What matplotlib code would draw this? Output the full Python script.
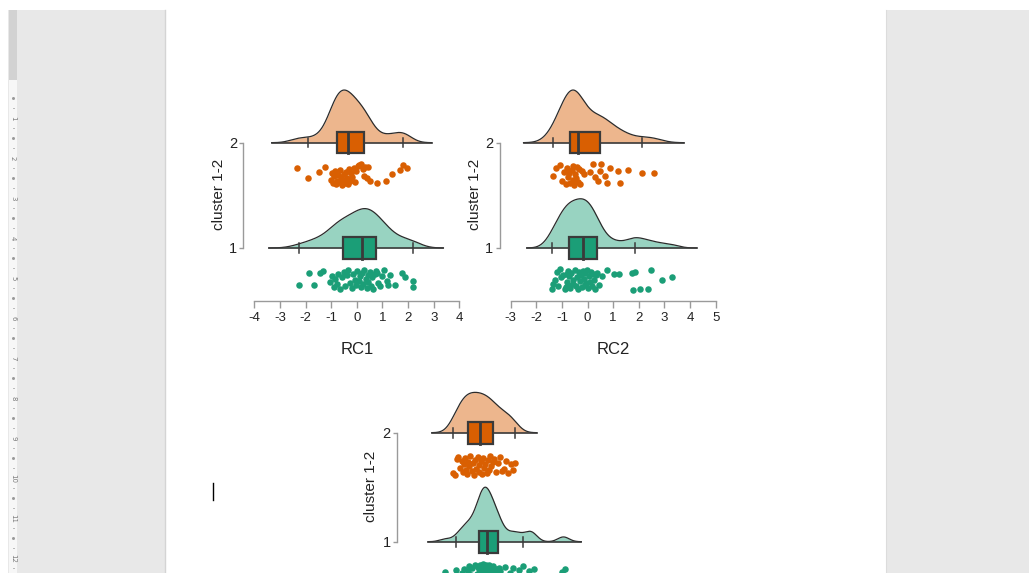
import numpy as np
import matplotlib
matplotlib.use("Agg")
import matplotlib.pyplot as plt
from matplotlib.patches import Rectangle

plt.rcParams['font.family'] = ['Liberation Sans Narrow', 'Liberation Sans', 'DejaVu Sans']
plt.rcParams['axes.unicode_minus'] = False

# --- data (component scores per cluster) ---
RC1_CLUSTER2 = [-2.35, -1.92, -1.48, -1.24, -1.02, -0.97, -0.92, -0.88, -0.85, -0.81, -0.78,
                -0.75, -0.70, -0.66, -0.62, -0.58, -0.55, -0.50, -0.46, -0.42, -0.38, -0.35,
                -0.30, -0.26, -0.22, -0.17, -0.12, -0.07, -0.02, 0.04, 0.10, 0.16, 0.26,
                0.30, 0.33, 0.39, 0.45, 0.52, 0.80, 1.13, 1.39, 1.69, 1.79, 1.95]
RC1_CLUSTER1 = [-2.26, -1.85, -1.66, -1.44, -1.31, -1.05, -0.98, -0.90, -0.84, -0.78, -0.72, -0.66, -0.58,
                -0.50, -0.46, -0.40, -0.33, -0.26, -0.20, -0.14, -0.08, -0.03, 0.02, 0.07, 0.12, 0.16,
                0.22, 0.26, 0.30, 0.34, 0.38, 0.42, 0.45, 0.50, 0.55, 0.60, 0.65, 0.71, 0.75,
                0.79, 0.84, 0.91, 1.00, 1.08, 1.17, 1.23, 1.30, 1.49, 1.75, 1.88, 2.18, 2.21]
RC2_CLUSTER2 = [-1.34, -1.25, -1.08, -0.98, -0.92, -0.86, -0.82, -0.78, -0.74,
                -0.68, -0.62, -0.58, -0.55, -0.52, -0.48, -0.45, -0.42, -0.38,
                -0.33, -0.28, -0.23, -0.13, 0.09, 0.22, 0.29, 0.40, 0.47,
                0.52, 0.68, 0.75, 0.87, 1.17, 1.27, 1.59, 2.11, 2.60]
RC2_CLUSTER1 = [-1.40, -1.34, -1.27, -1.21, -1.15, -1.08, -1.02, -0.95, -0.90, -0.86, -0.82, -0.80, -0.78, -0.76,
                -0.72, -0.68, -0.63, -0.58, -0.55, -0.50, -0.46, -0.42, -0.38, -0.33, -0.29, -0.25, -0.22, -0.19,
                -0.15, -0.12, -0.09, -0.06, -0.03, 0.00, 0.04, 0.08, 0.12, 0.16, 0.20, 0.25, 0.30, 0.34,
                0.38, 0.45, 0.55, 0.75, 1.04, 1.23, 1.75, 1.76, 1.85, 2.05, 2.37, 2.46, 2.89, 3.28]
RC3_CLUSTER2 = [-1.30, -1.22, -1.15, -1.10, -1.04, -0.98, -0.93, -0.88, -0.84, -0.80, -0.78,
                -0.73, -0.69, -0.65, -0.60, -0.56, -0.51, -0.47, -0.43, -0.38, -0.34, -0.31,
                -0.27, -0.22, -0.18, -0.13, -0.09, -0.04, 0.00, 0.05, 0.10, 0.14, 0.19,
                0.23, 0.30, 0.38, 0.45, 0.52, 0.60, 0.68, 0.77, 0.86, 0.95, 1.04]
RC3_CLUSTER1 = [-1.62, -1.21, -1.05, -0.95, -0.89, -0.82, -0.76, -0.70, -0.64, -0.58, -0.52, -0.47, -0.42, -0.38, -0.35,
                -0.31, -0.29, -0.27, -0.25, -0.23, -0.21, -0.19, -0.17, -0.15, -0.13, -0.11, -0.10, -0.08, -0.06, -0.05,
                -0.02, 0.00, 0.02, 0.04, 0.06, 0.09, 0.12, 0.15, 0.18, 0.21, 0.25, 0.29, 0.32, 0.35, 0.37,
                0.41, 0.46, 0.55, 0.65, 0.83, 0.96, 1.02, 1.18, 1.31, 1.55, 1.65, 1.75, 2.80, 2.90, 1.60]

# vertical jitter of each dot, as a fraction of the jitter band half-height
RC1_JIT2 = [0.6, -0.4, 0.2, 0.7, -0.5, 0.1, -0.8, -0.2, 0.3, -0.9, -0.6,
            -0.1, -0.7, 0.4, -0.3, -1.0, -0.5, 0.0, -0.8, 0.2, -0.4, -0.9,
            0.5, -0.6, 0.1, -0.3, 0.6, -0.7, 0.3, 0.8, 0.9, 1.0, 0.5,
            -0.2, 0.7, -0.4, 0.7, -0.6, -0.8, -0.6, 0.0, 0.4, 0.9, 0.6]
RC1_JIT1 = [-0.5, 0.6, -0.5, 0.6, 0.8, -0.2, 0.3, -0.7, 0.1, -0.4, 0.5, -0.9, 0.2,
            0.7, -0.6, 0.4, 0.9, -0.3, -0.8, 0.5, 0.0, -0.5, 0.8, -0.1, 0.3, -0.7,
            0.6, -0.4, 0.9, 0.1, -0.8, 0.4, -0.2, 0.7, -0.6, 0.2, -0.9, 0.5, 0.8,
            0.6, -0.3, -0.6, 0.3, 0.9, -0.1, -0.5, 0.4, -0.5, 0.6, 0.2, -0.1, -0.7]
RC2_JIT2 = [-0.15, 0.55, 0.9, -0.6, 0.2, -0.9, 0.6, -0.3, 0.1,
            -0.8, 0.4, -0.5, 0.8, -1.0, 0.0, -0.4, 0.7, -0.7,
            0.5, -0.9, 0.3, 0.0, 0.25, 1.0, -0.25, -0.65, 0.3,
            1.0, -0.15, -0.85, 0.55, 0.3, -0.85, 0.4, 0.1, 0.1]
RC2_JIT1 = [-0.87, -0.4, -0.08, 0.7, -0.6, 1.0, 0.2, 0.4, -0.9, -0.7, 0.5, -0.2, 0.8, -0.5,
            0.3, -0.8, 0.6, 0.0, -0.4, 0.9, -0.6, 0.2, -0.9, 0.7, -0.1, 0.4, -0.7, 0.8,
            0.1, -0.5, 0.6, -0.3, 0.9, -0.8, 0.3, -0.2, 0.7, -0.6, 0.5, 0.0, -0.9, 0.4,
            0.6, -0.5, 0.3, 0.93, 0.5, 0.5, 0.6, -0.96, 0.7, -0.87, -0.87, 0.93, -0.08, 0.2]
RC3_JIT2 = [-0.7, -0.9, 0.6, 0.8, -0.2, 0.4, -0.6, 0.1, 0.7, -0.4, -0.8,
            0.3, -0.1, 0.9, -0.5, 0.2, -0.9, 0.5, -0.3, 0.8, -0.6, 0.0,
            0.4, -0.8, 0.7, -0.2, 0.1, -0.7, 0.5, -0.4, 0.9, -0.1, 0.3,
            0.6, -0.6, 0.2, 0.8, -0.5, -0.3, 0.4, -0.7, 0.1, -0.4, 0.2]
RC3_JIT1 = [0.2, 0.4, -0.3, 0.1, 0.5, -0.6, 0.3, 0.8, -0.1, 0.6, -0.4, 0.9, 0.0, 0.7, -0.7,
            0.5, 0.9, -0.2, 0.7, 0.3, -0.5, 1.0, 0.1, 0.6, -0.8, 0.4, 0.8, -0.3, 0.2, 0.9,
            -0.6, 0.5, 0.7, 0.0, 0.9, -0.4, 0.3, 0.6, -0.9, 0.8, 0.2, -0.1, 0.5, 0.4, -0.7,
            0.6, 0.3, -0.2, 0.7, 0.1, 0.6, -0.5, 0.4, 0.8, 0.3, -0.3, 0.5, 0.2, 0.5, -0.6]

LEVELS = [1, 2]
LEVEL_LABELS = ["1", "2"]
PALETTE = {1: "#1B9E77", 2: "#D95F02"}   # Dark2

W, H = 1029, 573
fig = plt.figure(figsize=(W / 100, H / 100), dpi=100, facecolor="#e8e8e8")

# --- word-processor page behind the charts ---
bg = fig.add_axes([0, 0, 1, 1])
bg.set_xlim(0, W)
bg.set_ylim(H, 0)
bg.axis("off")
bg.add_patch(Rectangle((0, 0), W, 10, color="white", lw=0))
bg.add_patch(Rectangle((0, 0), 8, H, color="white", lw=0))
bg.add_patch(Rectangle((9, 10), 8, H, color="#f7f7f7", lw=0))
bg.add_patch(Rectangle((9, 10), 8, 70, color="#d2d2d2", lw=0))
bg.add_patch(Rectangle((165, 10), 721, H, color="white", lw=0))
bg.plot([164.5, 164.5], [10, H], color="#d4d4d4", lw=1)
bg.plot([886, 886], [10, H], color="#dcdcdc", lw=0.8)
for k in range(1, 13):
    yk = 118 + 40 * (k - 1)
    bg.text(13, yk, str(k), fontsize=5, color="#7a7a7a", rotation=270,
            ha="center", va="center", family=["DejaVu Sans"])
    bg.plot([13, 13], [yk - 20, yk - 20], marker="s", ms=0.8, color="#999999")
    bg.plot([12.5, 13.5], [yk - 10, yk - 10], color="#aaaaaa", lw=0.6)
    bg.plot([12.5, 13.5], [yk + 10, yk + 10], color="#aaaaaa", lw=0.6)
bg.plot([213, 213], [483, 500], color="black", lw=1)


def nrd0(x):
    sd = np.std(x, ddof=1)
    q75, q25 = np.percentile(x, [75, 25])
    return 0.9 * min(sd, (q75 - q25) / 1.34) * len(x) ** -0.2


def density(x):
    bw = nrd0(x)
    grid = np.linspace(x.min() - 3 * bw, x.max() + 3 * bw, 512)
    z = (grid[:, None] - x[None, :]) / bw
    d = np.exp(-0.5 * z ** 2).sum(axis=1) / (len(x) * bw * np.sqrt(2 * np.pi))
    return grid, d


def box_stats(x):
    q1, med, q3 = np.percentile(x, [25, 50, 75])
    iqr = q3 - q1
    lo = x[x >= q1 - 1.5 * iqr].min()
    hi = x[x <= q3 + 1.5 * iqr].max()
    return q1, med, q3, lo, hi


def add_axes_px(left, right, top, bottom):
    return fig.add_axes([left / W, 1 - bottom / H, (right - left) / W, (bottom - top) / H])


def raincloud(ax, groups, jitters, xlim, xlabel, show_x=True):
    dens = {lv: density(np.asarray(groups[lv])) for lv in LEVELS}
    scale = 0.5 / max(d.max() for _, d in dens.values())
    for lv in LEVELS:
        vals = np.asarray(groups[lv])
        col = PALETTE[lv]
        grid, d = dens[lv]
        ax.fill_between(grid, lv, lv + d * scale, color=col, alpha=0.45, lw=0, zorder=1)
        ax.plot(grid, lv + d * scale, color="#2b2b2b", lw=0.9, zorder=2)
        ax.plot([grid[0], grid[-1]], [lv, lv], color="#3a3a3a", lw=1.2, zorder=2)
        q1, med, q3, lo, hi = box_stats(vals)
        for w in (lo, hi):
            ax.plot([w, w], [lv - 0.045, lv + 0.045], color="#3a3a3a", lw=1.1, zorder=3)
        ax.add_patch(Rectangle((q1, lv - 0.1), q3 - q1, 0.2, facecolor=col,
                               edgecolor="#3a3a3a", lw=1.6, zorder=4))
        ax.plot([med, med], [lv - 0.1, lv + 0.1], color="#3a3a3a", lw=2, zorder=5)
        ax.scatter(vals, lv - 0.3 + 0.1 * np.asarray(jitters[lv]), s=22, color=col,
                   lw=0, zorder=3, clip_on=False)

    ax.set_xlim(*xlim)
    ax.set_ylim(0.5, 2.6)
    ax.set_facecolor("none")
    for s in ("top", "right"):
        ax.spines[s].set_visible(False)
    ax.spines["left"].set_position(("outward", 8))
    ax.spines["left"].set_bounds(1, 2)
    ax.spines["bottom"].set_bounds(*xlim)
    for s in ("left", "bottom"):
        ax.spines[s].set_color("#9a9a9a")
        ax.spines[s].set_linewidth(1)
    ax.set_yticks(LEVELS)
    ax.set_yticklabels(LEVEL_LABELS)
    ax.tick_params(axis="y", length=3, width=1, color="#9a9a9a", labelsize=10.5,
                   labelcolor="#222222", pad=1.5)
    ax.set_ylabel("cluster 1-2", fontsize=11, color="#222222")
    ax.yaxis.set_label_coords(-0.14, 0.48)
    if show_x:
        ax.set_xticks(np.arange(xlim[0], xlim[1] + 1))
        ax.tick_params(axis="x", length=5, width=1, color="#9a9a9a", labelsize=9.5,
                       labelcolor="#222222", pad=3)
        ax.set_xlabel(xlabel, fontsize=12, color="#222222")
        ax.xaxis.set_label_coords(0.5, -0.185)
    else:
        # the third chart's x axis lies below the visible part of the page
        ax.set_xticks([])
        ax.spines["bottom"].set_visible(False)


ax1 = add_axes_px(254.3, 459.3, 79.5, 300.65)
raincloud(ax1, {1: RC1_CLUSTER1, 2: RC1_CLUSTER2}, {1: RC1_JIT1, 2: RC1_JIT2}, (-4, 4), "RC1")

ax2 = add_axes_px(510.7, 715.7, 79.5, 300.65)
raincloud(ax2, {1: RC2_CLUSTER1, 2: RC2_CLUSTER2}, {1: RC2_JIT1, 2: RC2_JIT2}, (-3, 5), "RC2")

ax3 = add_axes_px(408.0, 620.6, 367.3, 596.2)
raincloud(ax3, {1: RC3_CLUSTER1, 2: RC3_CLUSTER2}, {1: RC3_JIT1, 2: RC3_JIT2}, (-3, 5), "RC3",
          show_x=False)

fig.savefig("out.png", dpi=100, facecolor=fig.get_facecolor())
